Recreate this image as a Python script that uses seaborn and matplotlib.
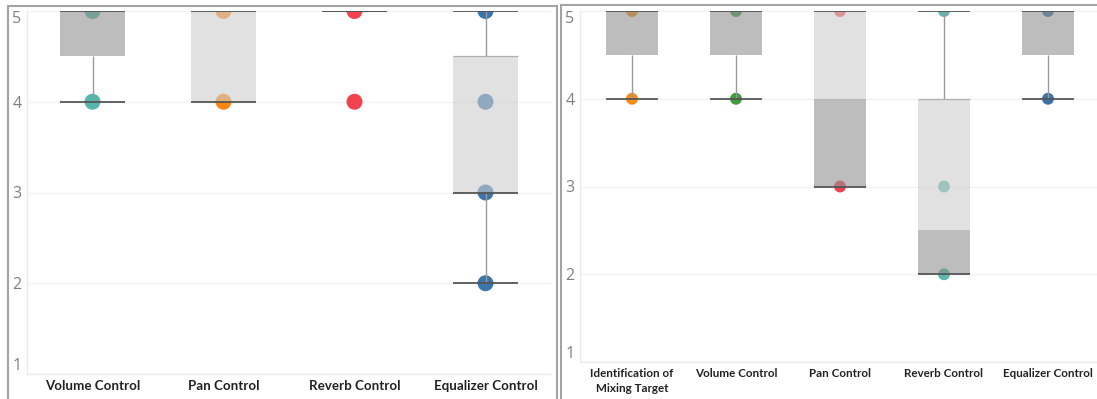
import pandas as pd
import matplotlib.pyplot as plt
import seaborn as sns
from matplotlib.patches import Rectangle

# ---- left chart ----
left_cats = ["Volume Control", "Pan Control", "Reverb Control", "Equalizer Control"]
left_points = [[5, 4], [5, 4], [5, 4], [5, 4, 3, 2]]
left_q1 = [4.5, 4, 5, 3]
left_med = [5, 4, 5, 3]
left_q3 = [5, 5, 5, 4.5]
left_lo = [4, 4, 5, 2]
left_hi = [5, 5, 5, 5]
left_colors = ["#55b7ab", "#fb8511", "#f2424f", "#3a75ad"]

# ---- right chart ----
right_cats = ["Identification of\nMixing Target", "Volume Control", "Pan Control",
              "Reverb Control", "Equalizer Control"]
right_points = [[5, 4], [5, 4], [5, 3], [5, 3, 2], [5, 4]]
right_q1 = [4.5, 4.5, 3, 2, 4.5]
right_med = [5, 5, 4, 2.5, 5]
right_q3 = [5, 5, 5, 4, 5]
right_lo = [4, 4, 3, 2, 4]
right_hi = [5, 5, 5, 5, 5]
right_colors = ["#f98a12", "#3f9c3f", "#ec4451", "#5cb8ae", "#3b73a8"]

yticks = [1, 2, 3, 4, 5]

sns.set_theme(style="white")
plt.rcParams['font.family'] = ['Open Sans', 'DejaVu Sans']


def draw_panel(ax, cats, points, q1, med, q3, lo, hi, colors, dot, fs):
    rows = [(c, v) for c, vals in zip(cats, points) for v in vals]
    df = pd.DataFrame(rows, columns=["cat", "score"])
    sns.stripplot(data=df, x="cat", y="score", hue="cat", order=cats, hue_order=cats,
                  palette=colors, jitter=False, size=dot, linewidth=0, legend=False,
                  ax=ax, zorder=2)
    x = list(range(len(cats)))
    w = 0.5
    lower = [m - a for a, m in zip(q1, med)]
    upper = [b - m for m, b in zip(med, q3)]
    # two-tone box, drawn over the dots
    ax.bar(x, lower, bottom=q1, width=w, color="#919191", alpha=0.6, zorder=3, linewidth=0)
    ax.bar(x, upper, bottom=med, width=w, color="#cdcdcd", alpha=0.6, zorder=3, linewidth=0)
    # whiskers
    ax.vlines(x, lo, q1, color="#9a9a9a", lw=1, zorder=4)
    ax.vlines(x, q3, hi, color="#9a9a9a", lw=1, zorder=4)
    xl = [i - w / 2 for i in x]
    xr = [i + w / 2 for i in x]
    ax.hlines(lo, xl, xr, color="#555555", lw=1.3, zorder=4)
    ax.hlines(hi, xl, xr, color="#555555", lw=1.3, zorder=4)
    for i in x:
        if q3[i] < hi[i]:
            ax.hlines(q3[i], xl[i], xr[i], color="#b0b0b0", lw=0.9, zorder=4)
        if q1[i] == med[i] and q1[i] > lo[i]:
            ax.hlines(q1[i], xl[i], xr[i], color="#555555", lw=1.3, zorder=4)

    ax.set_xlim(-0.5, len(cats) - 0.5)
    ax.set_ylim(1, 5)
    ax.set_yticks(yticks, labels=[str(t) for t in yticks])
    for lab in ax.get_yticklabels():
        if lab.get_text() == "5":
            lab.set_va("top")
        elif lab.get_text() == "1":
            lab.set_va("bottom")
    ax.tick_params(axis="y", length=0, pad=4, labelsize=11.5, labelcolor="#808080")
    ax.tick_params(axis="x", length=0, pad=4, labelsize=fs, labelcolor="#222222")
    for lab in ax.get_xticklabels():
        lab.set_fontfamily(["Lato", "DejaVu Sans"])
        lab.set_fontweight("bold")
        lab.set_linespacing(1.45)
    ax.set_xlabel("")
    ax.set_ylabel("")
    ax.grid(axis="y", color="#f2f2f2", lw=1)
    ax.set_axisbelow(True)
    for s in ["top", "right"]:
        ax.spines[s].set_visible(False)
    for s in ["left", "bottom"]:
        ax.spines[s].set_color("#ececec")
        ax.spines[s].set_linewidth(1)


W, H = 1097, 399
fig = plt.figure(figsize=(W / 100, H / 100), dpi=100)

ax1 = fig.add_axes([27 / W, 25 / H, 524 / W, 363 / H])
draw_panel(ax1, left_cats, left_points, left_q1, left_med, left_q3, left_lo, left_hi,
           left_colors, 11.5, 9.6)

ax2 = fig.add_axes([580 / W, 37 / H, 520 / W, 351 / H])
draw_panel(ax2, right_cats, right_points, right_q1, right_med, right_q3, right_lo, right_hi,
           right_colors, 8.6, 8.4)

# worksheet frames
fig.add_artist(Rectangle((7.5 / W, -0.1), 549 / W, (H - 5.5) / H + 0.1,
                         transform=fig.transFigure, fill=False, ec="#a3a3a3", lw=1.5))
fig.add_artist(Rectangle((560.5 / W, -0.1), 600 / W, (H - 5) / H + 0.1,
                         transform=fig.transFigure, fill=False, ec="#a3a3a3", lw=1.5))

fig.savefig("out.png", dpi=100)
